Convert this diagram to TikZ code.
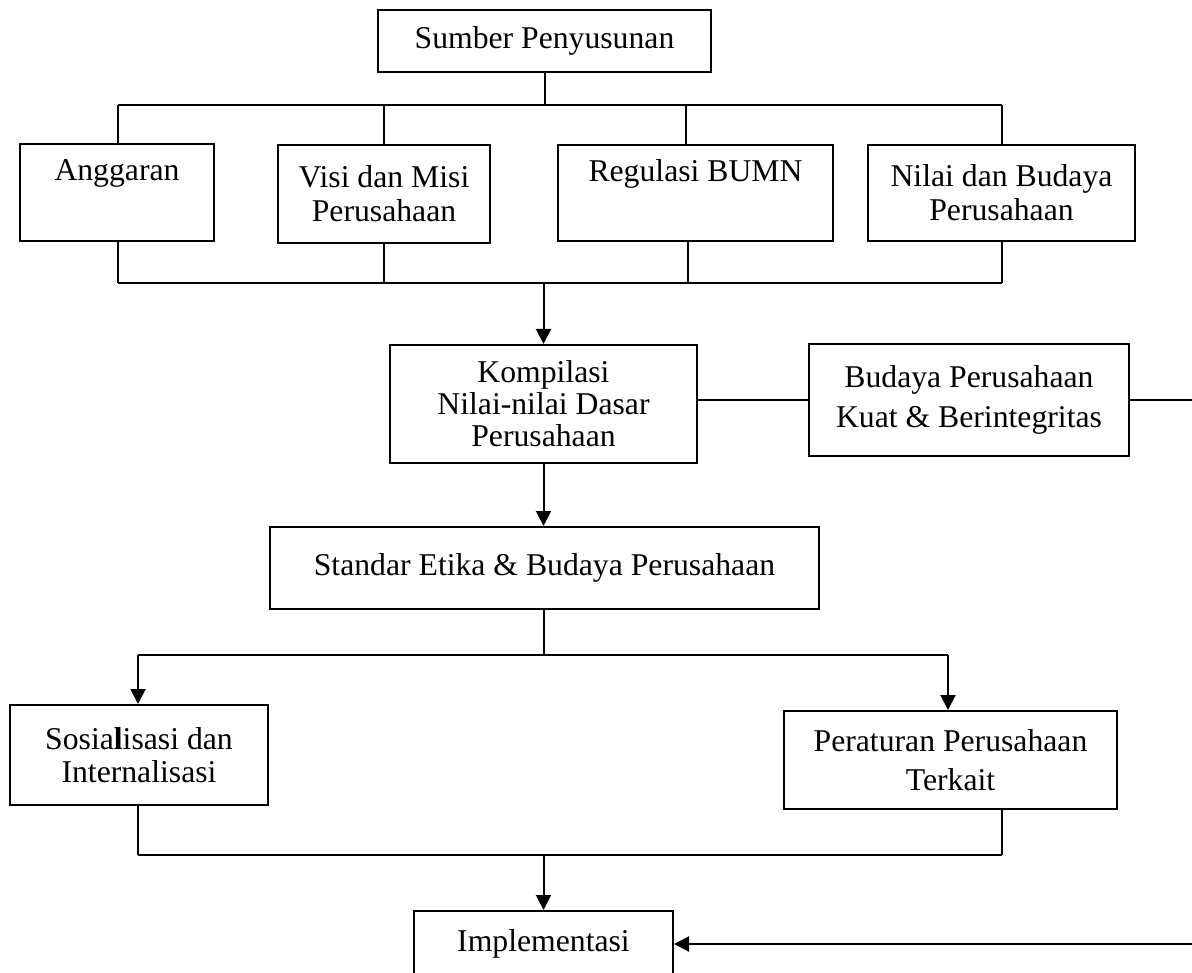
\documentclass[tikz,border=0pt]{standalone}
\usepackage{fontspec}
\setmainfont{Liberation Serif}
\usetikzlibrary{arrows.meta}
% one centred line that does not widen its box
\newcommand{\boxline}[1]{\makebox[0pt]{#1}}
\begin{document}
\begin{tikzpicture}[x=1pt,y=-1pt,
  box/.style={draw,line width=2pt,inner sep=0pt,align=center,
    font=\fontsize{31.7}{34}\selectfont},
  link/.style={line width=2pt},
  arr/.style={line width=2pt,-{Triangle[length=15pt,width=15pt]}}]
\useasboundingbox (0,0) rectangle (1192,973);
\clip (0,0) rectangle (1192,972);

% top level
\node[box,minimum width=333pt,minimum height=62pt] (sumber) at (544.5,41) {\boxline{Sumber Penyusunan}};

% sources
\node[box,minimum width=194pt,minimum height=97pt] (angg) at (117,192.5) {\boxline{Anggaran}\\ \strut};
\node[box,minimum width=212pt,minimum height=98pt] (visi) at (384,194) {\boxline{Visi dan Misi}\\ \boxline{Perusahaan}};
\node[box,minimum width=275pt,minimum height=96pt] (regul) at (695.5,193) {\boxline{Regulasi BUMN}\\ \strut};
\node[box,minimum width=267pt,minimum height=96pt] (nilai) at (1001.5,193) {\boxline{Nilai dan Budaya}\\ \boxline{Perusahaan}};

% compilation and culture
\node[box,minimum width=307pt,minimum height=118pt,font=\fontsize{31.7}{32}\selectfont] (komp) at (543.5,404) {\boxline{Kompilasi}\\ \boxline{Nilai-nilai Dasar}\\ \boxline{Perusahaan}};
\node[box,minimum width=320pt,minimum height=112pt,font=\fontsize{31.7}{40}\selectfont] (budaya) at (969,400) {\boxline{Budaya Perusahaan}\\ \boxline{Kuat \& Berintegritas}};

% standard
\node[box,minimum width=549pt,minimum height=82pt] (standar) at (544.5,568) {\boxline{Standar Etika \& Budaya Perusahaan}};

% follow-up
\node[box,minimum width=258pt,minimum height=100pt,font=\fontsize{31.7}{33}\selectfont] (sos) at (139,755) {\boxline{Sosia\textbf{l}isasi dan}\\ \boxline{Internalisasi}};
\node[box,minimum width=333pt,minimum height=98pt,font=\fontsize{31.7}{39}\selectfont] (perat) at (950.5,760) {\boxline{Peraturan Perusahaan}\\ \boxline{Terkait}};

% implementation
\node[box,minimum width=259pt,minimum height=66pt] (impl) at (543.5,944) {\boxline{Implementasi}};

% bus coordinates
\coordinate (ta) at (118,105);
\coordinate (tb) at (384,105);
\coordinate (tc) at (686,105);
\coordinate (td) at (1002,105);
\coordinate (ba) at (118,283);
\coordinate (bb) at (384,283);
\coordinate (bc) at (688,283);
\coordinate (bd) at (1002,283);
\coordinate (bm) at (543.5,283);
\coordinate (sa) at (138,655);
\coordinate (sb) at (948,655);
\coordinate (ua) at (138,855);
\coordinate (ub) at (1002,855);
\coordinate (um) at (543.5,855);
\coordinate (rr) at (1196,400);

% sources fan-out
\draw[link] (sumber.south) -- (sumber.south |- ta);
\draw[link] (ta) -- (td);
\draw[link] (ta) -- (ta |- angg.north);
\draw[link] (tb) -- (tb |- visi.north);
\draw[link] (tc) -- (tc |- regul.north);
\draw[link] (td) -- (td |- nilai.north);

% sources fan-in
\draw[link] (ba |- angg.south) -- (ba);
\draw[link] (bb |- visi.south) -- (bb);
\draw[link] (bc |- regul.south) -- (bc);
\draw[link] (bd |- nilai.south) -- (bd);
\draw[link] (ba) -- (bd);
\draw[arr] (bm) -- (komp.north);

% culture side link
\draw[link] (budaya.west -| komp.east) -- (budaya.west);
\draw[arr] (budaya.east) -- (rr) |- (impl.east);

% standard
\draw[arr] (komp.south) -- (komp.south |- standar.north);
\draw[link] (standar.south -| bm) -- (bm |- sa);
\draw[link] (sa) -- (sb);
\draw[arr] (sa) -- (sa |- sos.north);
\draw[arr] (sb) -- (sb |- perat.north);

% fan-in to implementation
\draw[link] (sos.south -| ua) -- (ua);
\draw[link] (ub |- perat.south) -- (ub);
\draw[link] (ua) -- (ub);
\draw[arr] (um) -- (impl.north);
\end{tikzpicture}
\end{document}
